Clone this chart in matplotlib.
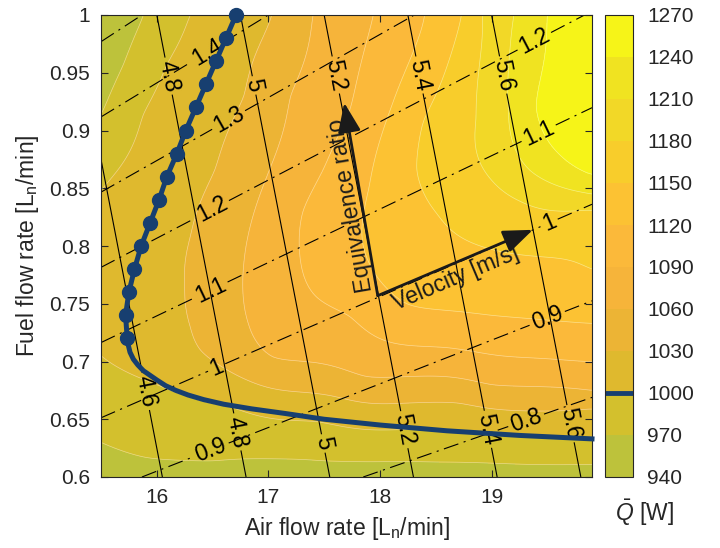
import numpy as np
import matplotlib
matplotlib.use('Agg')
import matplotlib.pyplot as plt
from matplotlib.colors import ListedColormap, BoundaryNorm
from matplotlib.cm import ScalarMappable

plt.rcParams['font.family'] = ['Liberation Sans', 'DejaVu Sans']
plt.rcParams['mathtext.fontset'] = 'custom'
plt.rcParams['mathtext.rm'] = 'Liberation Sans'
plt.rcParams['mathtext.it'] = 'Liberation Sans:italic'
plt.rcParams['lines.scale_dashes'] = False

TXT = '#262626'
BLUE = '#173f70'

# heat output bands [W]
q_levels = np.arange(940, 1271, 30)
band_colors = ['#bdc23b', '#d3c02d', '#dfb92e', '#ecb435', '#f6b43a', '#fbb93a',
               '#fcc233', '#f8cd2b', '#f2d827', '#f0e321', '#f6f418']

# sampled iso-heat lines (air, fuel) for each level
air_970 = [15.5, 15.70, 15.88, 15.5, 15.9, 16.5, 17.5, 18.5, 19.9]
fuel_970 = [0.914, 0.957, 1.0, 0.630, 0.617, 0.614, 0.614, 0.613, 0.611]
air_1000 = [15.5, 15.88, 16.09, 16.30, 15.5, 15.75, 16.0, 16.24, 16.68, 17.43, 18.18, 19.07, 19.9]
fuel_1000 = [0.848, 0.914, 0.957, 1.0, 0.705, 0.690, 0.680, 0.671, 0.660, 0.648, 0.641, 0.637, 0.633]
air_1030 = [17.03, 16.78, 16.52, 16.30, 16.25, 16.30, 16.39, 16.74, 17.58, 18.7, 19.9]
fuel_1030 = [1.0, 0.93, 0.866, 0.808, 0.765, 0.73, 0.710, 0.687, 0.670, 0.664, 0.659]
air_1060 = [17.40, 17.2, 17.01, 16.80, 16.77, 16.82, 17.04, 17.88, 19.0, 19.9]
fuel_1060 = [1.0, 0.93, 0.866, 0.80, 0.765, 0.733, 0.704, 0.687, 0.680, 0.675]
air_1090 = [17.94, 17.73, 17.49, 17.31, 17.28, 17.43, 17.73, 18.6, 19.9]
fuel_1090 = [1.0, 0.918, 0.866, 0.83, 0.794, 0.756, 0.739, 0.712, 0.700]
air_1120 = [18.40, 18.1, 17.9, 17.85, 18.0, 18.24, 19.0, 19.9]
fuel_1120 = [1.0, 0.92, 0.85, 0.80, 0.770, 0.750, 0.740, 0.733]
air_1150 = [18.73, 18.39, 18.33, 18.51, 18.9, 19.9]
fuel_1150 = [1.0, 0.908, 0.866, 0.828, 0.80, 0.78]
air_1180 = [18.92, 18.86, 19.0, 19.25, 19.9]
fuel_1180 = [1.0, 0.91, 0.857, 0.839, 0.831]
air_1210 = [19.2, 19.15, 19.35, 19.9]
fuel_1210 = [1.0, 0.92, 0.865, 0.845]
air_1240 = [19.5, 19.40, 19.60, 19.9]
fuel_1240 = [1.0, 0.92, 0.88, 0.862]
# extra spot values (air, fuel, Q)
spot_air = [15.5, 15.5, 17.7, 19.9, 15.5, 19.9, 19.75]
spot_fuel = [1.0, 0.6, 0.6, 0.6, 0.775, 0.95, 0.99]
spot_q = [948, 955, 958, 962, 1012, 1262, 1255]

# operating curve, markers on the first points
op_air = [16.71, 16.62, 16.53, 16.44, 16.35, 16.26, 16.18, 16.09, 16.02, 15.94,
          15.86, 15.80, 15.75, 15.72, 15.735]
op_fuel = [1.00, 0.98, 0.96, 0.94, 0.92, 0.90, 0.88, 0.86, 0.84, 0.82,
           0.80, 0.78, 0.76, 0.74, 0.72]
tail_air = [15.745, 15.76, 15.79, 15.83, 15.88, 15.94, 16.0, 16.08, 16.17, 16.28,
            16.42, 16.6, 16.85, 17.15, 17.5, 18.0, 18.6, 19.25, 19.9]
tail_fuel = [0.714, 0.708, 0.702, 0.697, 0.692, 0.688, 0.684, 0.679, 0.675, 0.671,
             0.667, 0.663, 0.659, 0.655, 0.650, 0.645, 0.640, 0.636, 0.633]

# iso-lines of velocity and equivalence ratio
vel_levels = [4.6, 4.8, 5.0, 5.2, 5.4, 5.6]
phi_levels = [0.8, 0.9, 1.0, 1.1, 1.2, 1.3, 1.4, 1.5]
STOICH = 23.8        # air/fuel volume ratio at phi = 1
FUEL_WEIGHT = 2.0    # fuel share in the hot-gas flow
AIR_PER_VEL = 3.75   # L/min per m/s
vel_label_pos = [(16.10, 0.947), (16.87, 0.939), (17.60, 0.948), (18.35, 0.948), (19.10, 0.948),
                 (15.90, 0.674), (16.72, 0.639), (17.49, 0.629), (18.22, 0.641), (18.95, 0.641),
                 (19.70, 0.646)]
phi_label_pos = [(16.45, 0.969), (16.65, 0.908), (16.49, 0.833), (16.48, 0.762), (16.54, 0.694),
                 (16.48, 0.625), (19.39, 0.976), (19.43, 0.896), (19.52, 0.819), (19.50, 0.737),
                 (19.31, 0.649)]


def tps(xs, ys, zs, gx, gy, smooth=1e-4):
    sx, sy = 1.063 / 4.4, 1 / 0.4
    px, py = (xs - 15.5) * sx, (ys - 0.6) * sy
    n = len(px)
    r2 = (px[:, None] - px[None]) ** 2 + (py[:, None] - py[None]) ** 2
    K = np.where(r2 > 0, 0.5 * r2 * np.log(np.maximum(r2, 1e-12)), 0.0)
    P = np.column_stack([np.ones(n), px, py])
    M = np.zeros((n + 3, n + 3))
    M[:n, :n] = K + smooth * np.eye(n)
    M[:n, n:] = P
    M[n:, :n] = P.T
    rhs = np.concatenate([zs, np.zeros(3)])
    sol = np.linalg.solve(M, rhs)
    w, a = sol[:n], sol[n:]
    qx, qy = (gx.ravel() - 15.5) * sx, (gy.ravel() - 0.6) * sy
    d2 = (qx[:, None] - px[None]) ** 2 + (qy[:, None] - py[None]) ** 2
    U = np.where(d2 > 0, 0.5 * d2 * np.log(np.maximum(d2, 1e-12)), 0.0)
    return (U @ w + a[0] + a[1] * qx + a[2] * qy).reshape(gx.shape)


lv = [(970, air_970, fuel_970), (1000, air_1000, fuel_1000), (1030, air_1030, fuel_1030),
      (1060, air_1060, fuel_1060), (1090, air_1090, fuel_1090), (1120, air_1120, fuel_1120),
      (1150, air_1150, fuel_1150), (1180, air_1180, fuel_1180), (1210, air_1210, fuel_1210),
      (1240, air_1240, fuel_1240)]
xs = np.concatenate([np.array(a) for _, a, _ in lv] + [np.array(spot_air)])
ys = np.concatenate([np.array(f) for _, _, f in lv] + [np.array(spot_fuel)])
zs = np.concatenate([np.full(len(a), q, float) for q, a, _ in lv] + [np.array(spot_q, float)])

air = np.linspace(15.5, 19.9, 221)
fuel = np.linspace(0.6, 1.0, 201)
A, F = np.meshgrid(air, fuel)
Q = tps(xs, ys, zs, A, F)
PHI = STOICH * F / A
VEL = (A + FUEL_WEIGHT * F) / AIR_PER_VEL

cmap = ListedColormap(band_colors)
cmap.set_under(band_colors[0])
cmap.set_over(band_colors[-1])
norm = BoundaryNorm(q_levels, cmap.N)

fig = plt.figure(figsize=(7.2, 5.48), dpi=100)
ax = fig.add_axes([101 / 720, 1 - 477 / 548, 491 / 720, 462 / 548])
cax = fig.add_axes([605 / 720, 1 - 477 / 548, 28 / 720, 462 / 548])

ax.contourf(A, F, Q, levels=q_levels, cmap=cmap, norm=norm, extend='both')
ax.contour(A, F, Q, levels=q_levels, colors='white', linewidths=0.5, alpha=0.45)

cs_v = ax.contour(A, F, VEL, levels=vel_levels, colors='k', linewidths=0.8)
ax.clabel(cs_v, manual=vel_label_pos, fmt=lambda v: f'{v:g}', fontsize=16.5, inline_spacing=3)
cs_p = ax.contour(A, F, PHI, levels=phi_levels, colors='k', linewidths=0.8)
ax.clabel(cs_p, manual=phi_label_pos, fmt=lambda v: f'{v:g}', fontsize=16.5, inline_spacing=3)
cs_p.set_linestyle((0, (11, 4, 1.5, 4)))

ax.plot(op_air + tail_air, op_fuel + tail_fuel, color=BLUE, lw=3.6, marker='o', ms=10,
        markevery=list(range(len(op_air))), clip_on=False, zorder=6)

# arrows for the two directions
base = (17.98, 0.757)
ax.annotate('', xy=(17.68, 0.924), xytext=base,
            arrowprops=dict(arrowstyle='-|>,head_length=0.9,head_width=0.35', lw=2,
                            color='#1a1a1a', mutation_scale=20, shrinkA=0, shrinkB=0), zorder=7)
ax.annotate('', xy=(19.37, 0.814), xytext=base,
            arrowprops=dict(arrowstyle='-|>,head_length=0.9,head_width=0.35', lw=2,
                            color='#1a1a1a', mutation_scale=20, shrinkA=0, shrinkB=0), zorder=7)
ax.text(17.74, 0.835, 'Equivalence ratio', rotation=99.7, rotation_mode='anchor',
        ha='center', va='center', fontsize=16.5, color='#1a1a1a')
ax.text(18.68, 0.772, 'Velocity [m/s]', rotation=23, rotation_mode='anchor',
        ha='center', va='center', fontsize=16.5, color='#1a1a1a')

ax.set_xlim(15.5, 19.9)
ax.set_ylim(0.6, 1.0)
ax.set_xticks([16, 17, 18, 19])
yt = np.round(np.arange(0.6, 1.001, 0.05), 2)
ax.set_yticks(yt)
ax.set_yticklabels([f'{v:g}' for v in yt])
ax.tick_params(direction='in', top=True, right=True, length=5, width=0.8,
               labelsize=15, colors=TXT, pad=8)
for s in ax.spines.values():
    s.set_color(TXT)
    s.set_linewidth(0.8)
ax.set_xlabel(r'Air flow rate [L$_{\rm n}$/min]', fontsize=16.5, color=TXT, labelpad=6)
ax.set_ylabel(r'Fuel flow rate [L$_{\rm n}$/min]', fontsize=16.5, color=TXT, labelpad=6)

cb = fig.colorbar(ScalarMappable(norm=norm, cmap=cmap), cax=cax, ticks=q_levels)
cb.outline.set_edgecolor(TXT)
cb.outline.set_linewidth(0.8)
cax.tick_params(direction='in', length=0, labelsize=15, colors=TXT, pad=10)
cax.axhline(1000, color=BLUE, lw=3.5)
fig.text(644 / 720, 1 - 513 / 548, r'$\bar{Q}$ [W]', ha='center', va='center',
         fontsize=16.5, color=TXT)

fig.savefig('out.png', dpi=100)
